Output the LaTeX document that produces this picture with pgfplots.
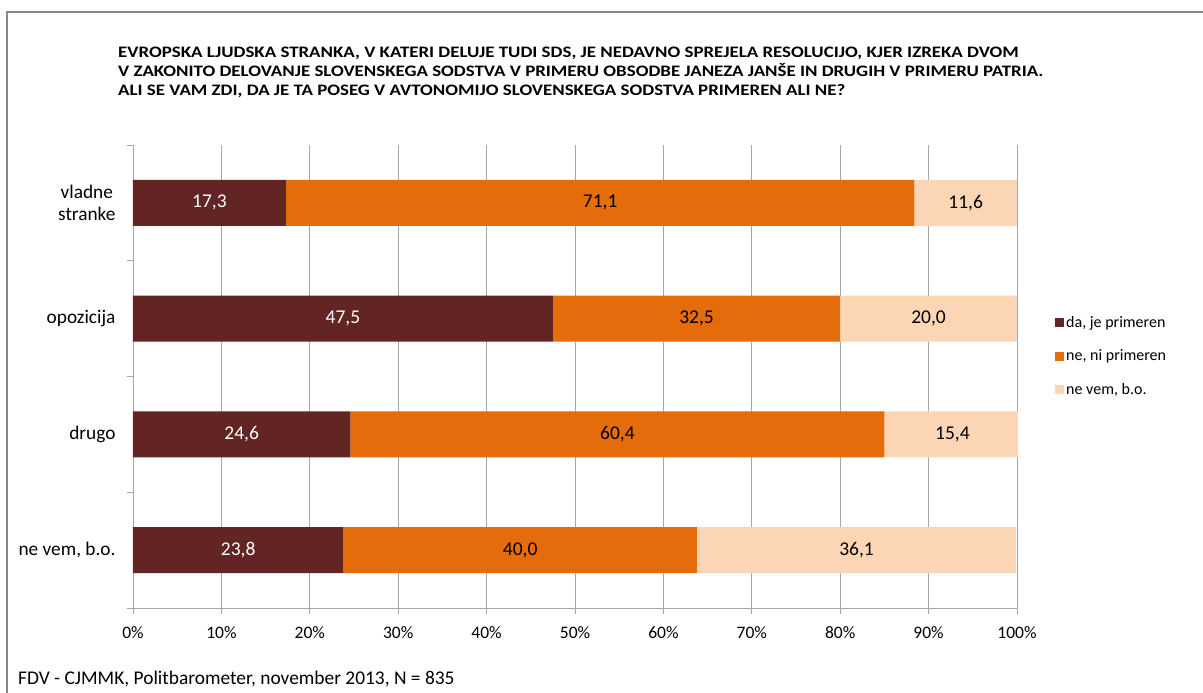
\documentclass[border=0pt]{standalone}
\usepackage{fontspec}
\setmainfont{Carlito}
\newfontfamily\titlefont{Carlito}[FakeStretch=1.18]
\usepackage{pgfplots}
\pgfplotsset{compat=1.18}
\definecolor{c1}{HTML}{632523}
\definecolor{c2}{HTML}{E46C0A}
\definecolor{c3}{HTML}{FCD5B5}
\definecolor{gridc}{HTML}{A6A6A6}
\definecolor{framec}{HTML}{898989}
\begin{document}
\begin{tikzpicture}[x=1pt,y=1pt]
\useasboundingbox (0,0) rectangle (1203,693);
\draw[framec, line width=1.5pt] (7,0) -- (7,681) -- (1203,681);
\begin{scope}[every node/.style={anchor=base west, inner sep=0pt, font=\titlefont\fontsize{16}{18}\selectfont\bfseries}]
\node at (118,693-57.3) {EVROPSKA LJUDSKA STRANKA, V KATERI DELUJE TUDI SDS, JE NEDAVNO SPREJELA RESOLUCIJO, KJER IZREKA DVOM};
\node at (118,693-76.7) {V ZAKONITO DELOVANJE SLOVENSKEGA SODSTVA V PRIMERU OBSODBE JANEZA JANŠE IN DRUGIH V PRIMERU PATRIA.};
\node at (118,693-95.9) {ALI SE VAM ZDI, DA JE TA POSEG V AVTONOMIJO SLOVENSKEGA SODSTVA PRIMEREN ALI NE?};
\end{scope}
\node[anchor=base west, inner sep=0pt, font=\fontsize{19.4}{23}\selectfont] at (18,693-685) {FDV - CJMMK, Politbarometer, november 2013, N = 835};
\begin{axis}[
  at={(133pt,85pt)}, anchor=south west, scale only axis,
  width=884pt, height=463pt,
  xbar stacked, bar width=46pt,
  xmin=0, xmax=100, ymin=-0.5, ymax=3.5,
  clip=false,
  axis lines*=left, axis line style={gridc, line width=0.8pt},
  xtick={0,10,...,100},
  xticklabel={\pgfmathprintnumber{\tick}\%},
  xmajorgrids, major grid style={gridc, line width=0.8pt},
  ytick={-0.5,0.5,1.5,2.5,3.5}, yticklabels={},
  extra y ticks={0,1,2,3},
  extra y tick labels={{ne vem, b.o.},drugo,opozicija,{vladne\\stranke}},
  extra y tick style={tick style={draw=none}},
  yticklabel style={align=center, font=\fontsize{19.3}{22.5}\selectfont, xshift=-8pt},
  xticklabel style={font=\fontsize{17.5}{20}\selectfont, yshift=-9pt},
  tick style={gridc, line width=0.8pt}, major tick length=6pt, tick align=outside,
  /pgf/number format/assume math mode=true,
  point meta=explicit,
  nodes near coords={\pgfmathprintnumber[fixed,fixed zerofill,precision=1,use comma,assume math mode=true]{\pgfplotspointmeta}},
  every node near coord/.append style={anchor=center, font=\fontsize{19.5}{22}\selectfont},
  legend style={at={(1.043,0.544)}, anchor=west, draw=none, fill=none,
    font=\fontsize{16}{19}\selectfont, row sep=17pt, inner sep=0pt},
  legend cell align=left,
  legend image code/.code={\fill[#1] (2pt,-4.5pt) rectangle (11pt,4.5pt);},
]
\addplot[fill=c1, draw=none, every node near coord/.append style={text=white}] coordinates {(17.3,3) [17.3] (47.5,2) [47.5] (24.6,1) [24.6] (23.8,0) [23.8]};
\addplot[fill=c2, draw=none, every node near coord/.append style={text=black}] coordinates {(71.1,3) [71.1] (32.5,2) [32.5] (60.4,1) [60.4] (40.0,0) [40.0]};
\addplot[fill=c3, draw=none, every node near coord/.append style={text=black}] coordinates {(11.6,3) [11.6] (20.0,2) [20.0] (15.4,1) [15.4] (36.1,0) [36.1]};
\legend{{da, je primeren},{ne, ni primeren},{ne vem, b.o.}}
\end{axis}
\fill[white] (1017.6,230) rectangle (1026,290);
\end{tikzpicture}
\end{document}
